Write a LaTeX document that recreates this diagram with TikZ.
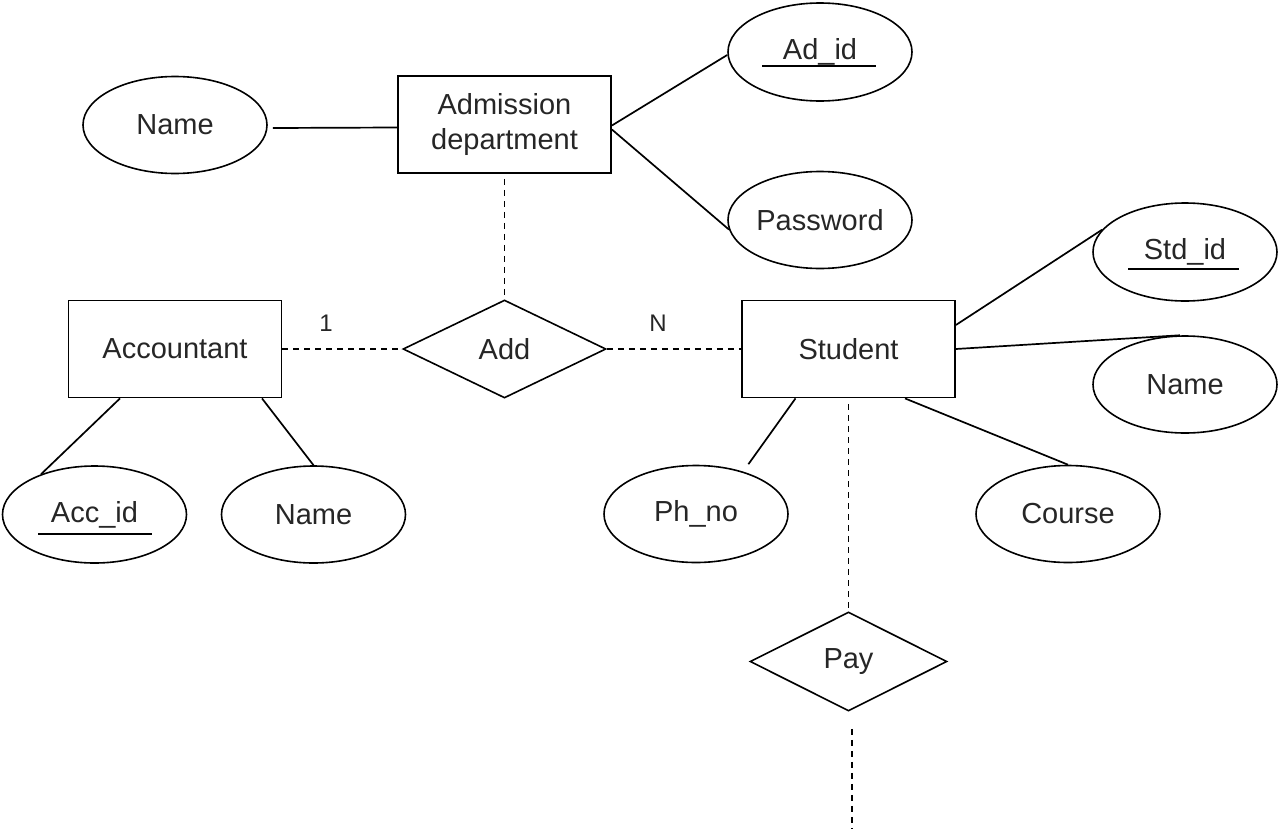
\documentclass[tikz,border=0pt]{standalone}
\usepackage{fontspec}
\setmainfont{Liberation Sans}
\usetikzlibrary{shapes.geometric}
\begin{document}
\begin{tikzpicture}[x=1pt,y=-1pt,
  every node/.style={font=\fontsize{29}{34.5}\selectfont, inner sep=0pt, text=black!85},
  ent/.style={draw, line width=1.8pt, minimum width=213pt, minimum height=97pt, align=center},
  attr/.style={draw, ellipse, line width=1.6pt, minimum width=184pt, minimum height=97pt},
  rel/.style={draw, diamond, line width=1.6pt},
  conn/.style={line width=1.7pt},
  dconn/.style={line width=1.7pt, dash pattern=on 6pt off 5pt},
  card/.style={font=\fontsize{24}{28}\selectfont},
  uline/.style={line width=1.7pt}
]
\useasboundingbox (0,0) rectangle (1280,830);

% entities
\node[ent] (adm) at (504.5,124.5) {Admission\\department};
\node[ent] (acc) at (175,349) {Accountant};
\node[ent] (stu) at (848.5,349) {Student};

% relationships
\node[rel, minimum width=203pt, minimum height=98pt] (add) at (504.5,349) {Add};
\node[rel, minimum width=197pt, minimum height=99pt] (pay) at (848.5,661.5) {Pay};

% attributes
\node[attr] (namead) at (175,125) {Name};
\node[attr, minimum height=98pt] (adid) at (820,52) {Ad\_id};
\node[attr] (pw) at (820,220) {Password};
\node[attr, minimum height=98pt] (stdid) at (1185,252) {Std\_id};
\node[attr] (namest) at (1185,384.5) {Name};
\node[attr] (ph) at (696,514) {Ph\_no};
\node[attr] (course) at (1068,514) {Course};
\node[attr] (accid) at (94.5,514.5) {Acc\_id};
\node[attr] (nameacc) at (313.5,514.5) {Name};

% underlines of key attributes
\draw[uline] ([xshift=-58pt,yshift=-14pt]adid.center) -- ([xshift=56pt,yshift=-14pt]adid.center);
\draw[uline] ([xshift=-57pt,yshift=-17pt]stdid.center) -- ([xshift=54pt,yshift=-17pt]stdid.center);
\draw[uline] ([xshift=-56.5pt,yshift=-19.5pt]accid.center) -- ([xshift=57.5pt,yshift=-19.5pt]accid.center);

% attribute connectors
\draw[conn] ([xshift=5pt,yshift=-3pt]namead.east) -- ([yshift=-3pt]adm.west);
\draw[conn] ([yshift=-1pt]adm.east) -- ([yshift=-3pt]adid.west);
\draw[conn] ([yshift=-5pt]adm.east) -- (pw.186);
\draw[conn] ([yshift=24pt]stu.east) -- (stdid.165);
\draw[conn] (stu.east) -- (namest.96);
\draw[conn, shorten >=9pt] ([xshift=-53pt]stu.south) -- (ph.42);
\draw[conn] ([xshift=56.5pt]stu.south) -- (course.north);
\draw[conn] ([xshift=-55pt]acc.south) -- (accid.143);
\draw[conn] ([xshift=87pt]acc.south) -- (nameacc.north);

% relationship connectors
\draw[dconn, shorten <=5pt, shorten >=3pt] (adm.south) -- (add.north);
\draw[dconn] (acc.east) -- (add.west);
\draw[dconn] (add.east) -- (stu.west);
\draw[dconn, shorten <=6pt] (stu.south) -- (pay.north);
\coordinate (payend) at (852,828);
\draw[dconn, shorten <=17pt] ([xshift=3.5pt]pay.south) -- (payend);

% cardinalities
\node[card] (c1) at (326,323) {1};
\node[card] (cn) at (658,323) {N};
\end{tikzpicture}
\end{document}
